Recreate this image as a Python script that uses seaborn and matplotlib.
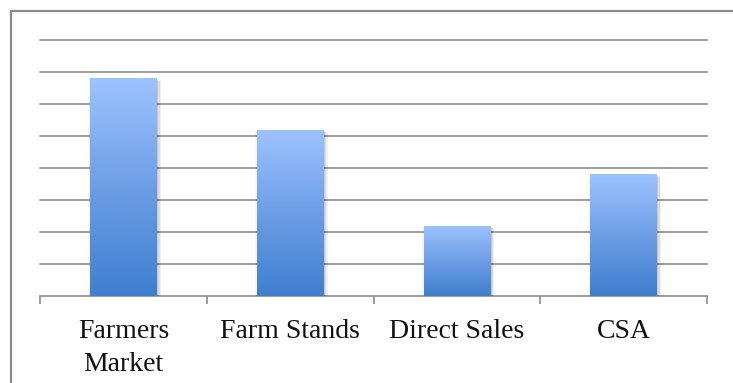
import numpy as np
import pandas as pd
import matplotlib
matplotlib.use("Agg")
import matplotlib.pyplot as plt
import seaborn as sns
from matplotlib.colors import LinearSegmentedColormap
from matplotlib.lines import Line2D
import matplotlib.patheffects as pe

# Sales channels and their counts
categories = ["Farmers\nMarket", "Farm Stands", "Direct Sales", "CSA"]
values = [34, 26, 11, 19]
grid_levels = list(range(5, 41, 5))

sns.set_theme(style="white")
plt.rcParams["font.family"] = ["Liberation Serif", "DejaVu Serif"]

W, H = 733, 383
fig = plt.figure(figsize=(W / 100, H / 100), dpi=100)
fig.patch.set_facecolor("white")
ax = fig.add_axes([40 / W, 87 / H, 667 / W, 256 / H])

df = pd.DataFrame({"channel": categories, "value": values})
sns.barplot(data=df, x="channel", y="value", width=0.4, color="#6fa0e6",
            ax=ax, zorder=2.9, saturation=1)

# vertical gradient fill for each bar, light at the top and deeper blue at the base
cmap = LinearSegmentedColormap.from_list("bar_grad", ["#3f7fcf", "#6d9ee6", "#9dc3ff"])
grad = np.linspace(0, 1, 256).reshape(-1, 1)
shadow = [
    pe.SimplePatchShadow(offset=(3, -2), shadow_rgbFace="#000000", alpha=0.06),
    pe.SimplePatchShadow(offset=(2, -1.5), shadow_rgbFace="#000000", alpha=0.08),
    pe.SimplePatchShadow(offset=(1, -1), shadow_rgbFace="#000000", alpha=0.10),
    pe.SimplePatchShadow(offset=(-1, -1), shadow_rgbFace="#000000", alpha=0.04),
]
for patch in list(ax.patches):
    x, y = patch.get_x(), patch.get_y()
    w, h = patch.get_width(), patch.get_height()
    patch.set_facecolor("white")
    patch.set_edgecolor("none")
    patch.set_path_effects(shadow + [pe.Normal()])
    im = ax.imshow(grad, extent=[x, x + w, y, y + h], origin="lower",
                   aspect="auto", cmap=cmap, zorder=3, interpolation="bilinear")
    im.set_clip_path(patch)

ax.set_xlim(-0.5, 3.5)
ax.set_ylim(0, 40)

# horizontal gridlines, no value labels
ax.set_yticks(grid_levels)
ax.set_yticklabels([])
ax.yaxis.grid(True, color="#8c8c8c", linewidth=1.2)
for gl in ax.get_ygridlines():
    gl.set_clip_on(False)
ax.set_axisbelow(True)
ax.tick_params(axis="y", length=0)

for side in ["top", "right", "left"]:
    ax.spines[side].set_visible(False)
ax.spines["bottom"].set_color("#8c8c8c")
ax.spines["bottom"].set_linewidth(1.2)

# category labels centred, small ticks on the category boundaries
ax.set_xticks(range(len(categories)))
ax.set_xticklabels(categories, fontsize=20, color="#111111", linespacing=1.4)
ax.tick_params(axis="x", which="major", length=0, pad=16.5)
ax.set_xticks(np.arange(-0.5, len(categories), 1.0), minor=True)
ax.tick_params(axis="x", which="minor", bottom=True, length=5.5, width=1.2,
               color="#8c8c8c", direction="out")
ax.set_xlabel("")
ax.set_ylabel("")

# chart-area frame on the left and top
bx, by = 11 / W, 1 - 11 / H
fig.add_artist(Line2D([bx, bx], [0, by], transform=fig.transFigure,
                      color="#8a8a8a", linewidth=1.6))
fig.add_artist(Line2D([bx, 1], [by, by], transform=fig.transFigure,
                      color="#8a8a8a", linewidth=1.6))

fig.savefig("out.png", dpi=100, facecolor="white")
